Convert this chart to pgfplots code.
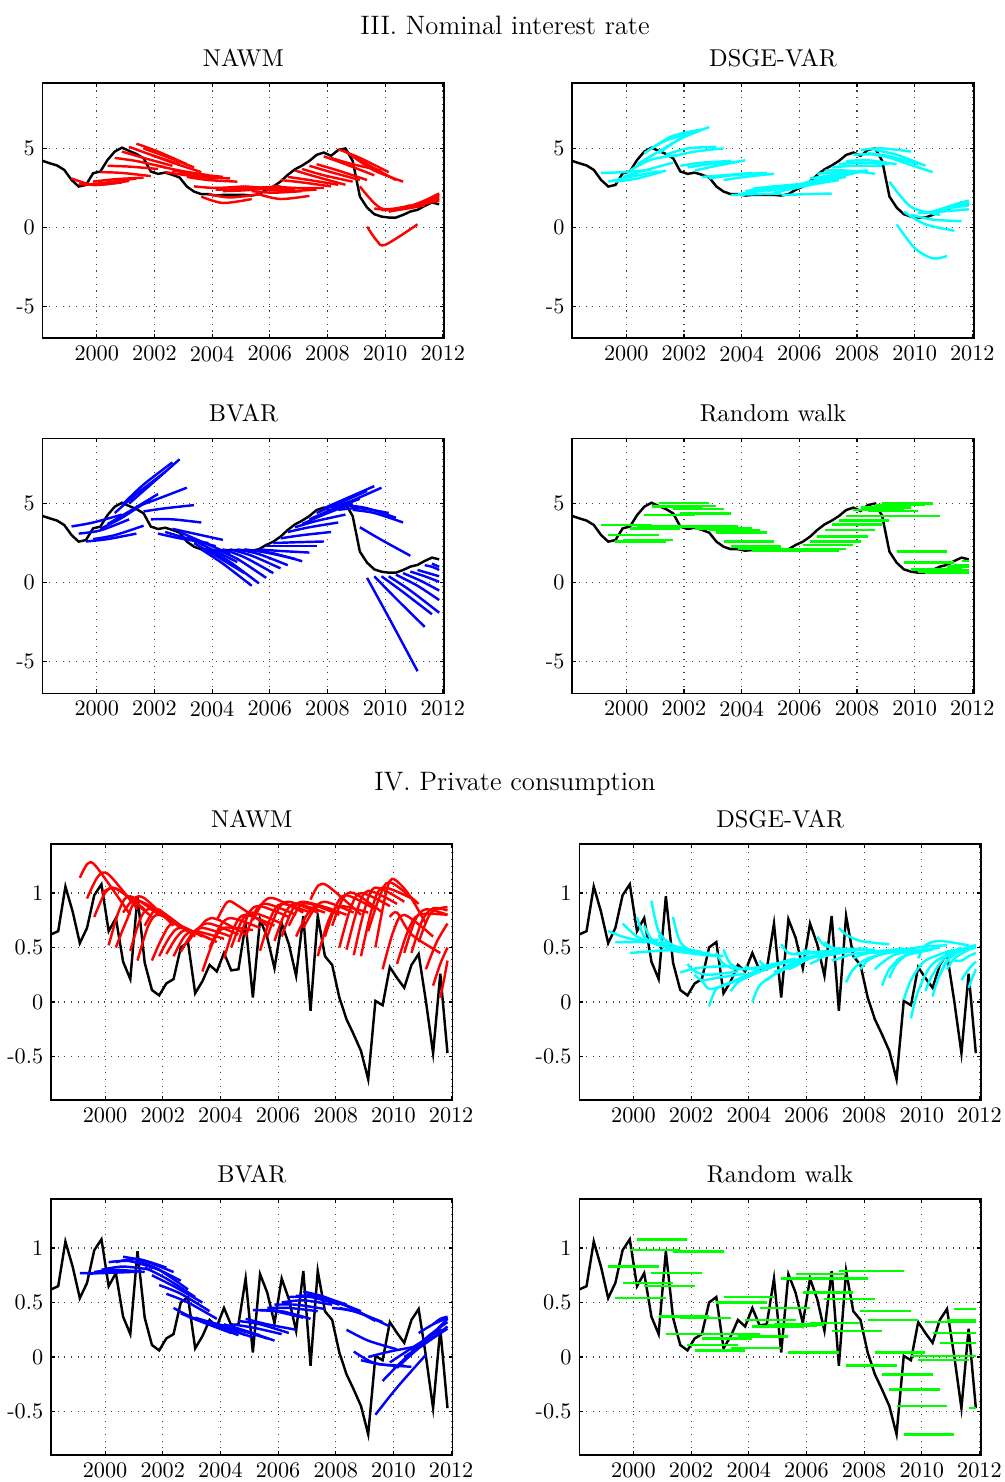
\documentclass[border=0pt]{standalone}
\usepackage{pgfplots}
\usepackage{pgfplotstable}
\pgfplotsset{compat=1.18}
\definecolor{mred}{RGB}{255,0,0}
\definecolor{mcyan}{RGB}{0,255,255}
\definecolor{mblue}{RGB}{0,0,255}
\definecolor{mgreen}{RGB}{0,255,0}

\pgfplotstableread{
x y
1998.125 4.21
1998.375 4.06
1998.625 3.92
1998.875 3.64
1999.125 3.01
1999.375 2.59
1999.625 2.69
1999.875 3.43
2000.125 3.54
2000.375 4.27
2000.625 4.80
2000.875 5.05
2001.125 4.84
2001.375 4.65
2001.625 4.38
2001.875 3.54
2002.125 3.39
2002.375 3.47
2002.625 3.33
2002.875 3.16
2003.125 2.59
2003.375 2.27
2003.625 2.11
2003.875 2.11
2004.125 2.02
2004.375 2.06
2004.625 2.06
2004.875 2.06
2005.125 2.06
2005.375 2.02
2005.625 2.11
2005.875 2.38
2006.125 2.59
2006.375 2.91
2006.625 3.33
2006.875 3.68
2007.125 3.92
2007.375 4.21
2007.625 4.59
2007.875 4.74
2008.125 4.53
2008.375 4.90
2008.625 5.00
2008.875 4.21
2009.125 1.96
2009.375 1.26
2009.625 0.84
2009.875 0.69
2010.125 0.63
2010.375 0.63
2010.625 0.80
2010.875 1.01
2011.125 1.12
2011.375 1.37
2011.625 1.58
2011.875 1.47
}\irtab

\pgfplotstableread{
x y
1998.125 0.62
1998.375 0.65
1998.625 1.06
1998.875 0.83
1999.125 0.54
1999.375 0.68
1999.625 0.98
1999.875 1.08
2000.125 0.65
2000.375 0.77
2000.625 0.37
2000.875 0.21
2001.125 0.97
2001.375 0.36
2001.625 0.11
2001.875 0.06
2002.125 0.17
2002.375 0.21
2002.625 0.50
2002.875 0.55
2003.125 0.08
2003.375 0.19
2003.625 0.34
2003.875 0.28
2004.125 0.45
2004.375 0.29
2004.625 0.30
2004.875 0.72
2005.125 0.04
2005.375 0.76
2005.625 0.59
2005.875 0.31
2006.125 0.72
2006.375 0.53
2006.625 0.24
2006.875 0.79
2007.125 -0.08
2007.375 0.79
2007.625 0.42
2007.875 0.34
2008.125 0.04
2008.375 -0.16
2008.625 -0.30
2008.875 -0.45
2009.125 -0.71
2009.375 0.01
2009.625 -0.03
2009.875 0.32
2010.125 0.22
2010.375 0.13
2010.625 0.34
2010.875 0.44
2011.125 0.01
2011.375 -0.47
2011.625 0.26
2011.875 -0.47
}\cotab

\newcommand\fc[1]{\addplot[fcol,line width=1.1pt,smooth] coordinates {#1};}
\newcommand\rw[3]{\addplot[fcol,line width=1.1pt] coordinates {(#1,#3)(#2,#3)};}

\pgfplotsset{
 panel/.style={
  scale only axis, width=180.7pt, height=114.75pt,
  anchor=south west,
  xmin=1998.125, xmax=2012.05,
  xtick={2000,2002,...,2012}, xticklabels={2000,2002,2004,2006,2008,2010,2012},
  grid=major,
  grid style={black!75, dash pattern=on 0.5pt off 2.5pt, line width=0.5pt},
  axis line style={line width=0.7pt},
  tick style={black,line width=0.5pt}, major tick length=1.8pt,
  tick align=inside,
  title style={at={(0.5,1)},anchor=base,yshift=1.4pt,font=\fontsize{10.95}{13}\selectfont},
  ticklabel style={font=\fontsize{10}{12}\selectfont},
 },
 irate/.style={panel, ymin=-7, ymax=9.12, ytick={-5,0,5}, yticklabels={-5,0,5}},
 cons/.style={panel, height=115.2pt, ymin=-0.9, ymax=1.45, ytick={-0.5,0,0.5,1}, yticklabels={-0.5,0,0.5,1}},
}

\begin{document}
\begin{tikzpicture}
\useasboundingbox (0,0) rectangle (452.25pt,-666.9pt);

\node[anchor=base,font=\fontsize{12}{14}\selectfont] at (227.25pt,-15.3pt) {III. Nominal interest rate};
\node[anchor=base,font=\fontsize{12}{14}\selectfont] at (231.75pt,-355.5pt) {IV. Private consumption};

% ---------------- P1 NAWM interest
\begin{axis}[irate, at={(19.2pt,-152.2pt)}, title={NAWM}, fcol/.style={mred}]
\addplot[black,line width=1.1pt] table[x=x,y=y] {\irtab};
\fc{(1999.125,3.1)(1999.875,2.7)(2000.875,2.85)}
\fc{(1999.375,2.75)(2000.125,2.7)(2001.125,2.95)}
\fc{(1999.625,2.7)(2000.375,2.85)(2001.375,3.1)}
\fc{(1999.875,2.9)(2000.625,3.05)(2001.625,3.15)}
\fc{(2000.125,3.5)(2000.875,3.45)(2001.875,3.25)}
\fc{(2000.375,3.9)(2001.125,3.85)(2002.125,3.7)}
\fc{(2000.625,4.4)(2001.375,4.2)(2002.375,3.8)}
\fc{(2000.875,4.8)(2001.625,4.4)(2002.625,3.9)}
\fc{(2001.125,5.1)(2001.875,4.6)(2002.875,4.0)}
\fc{(2001.375,5.3)(2002.125,4.8)(2003.125,4.0)}
\fc{(2001.625,5.0)(2002.375,4.5)(2003.375,3.8)}
\fc{(2001.875,4.6)(2002.625,4.1)(2003.625,3.5)}
\fc{(2002.125,3.9)(2002.875,3.6)(2003.875,3.3)}
\fc{(2002.375,3.5)(2003.125,3.3)(2004.125,3.1)}
\fc{(2002.625,3.6)(2003.375,3.4)(2004.375,3.2)}
\fc{(2002.875,3.4)(2003.625,3.2)(2004.625,3.1)}
\fc{(2003.125,3.2)(2003.875,3.0)(2004.875,2.9)}
\fc{(2003.375,2.6)(2004.125,2.5)(2005.125,2.6)}
\fc{(2003.625,1.95)(2004.375,1.55)(2005.375,1.8)}
\fc{(2003.875,2.1)(2004.625,1.9)(2005.625,2.1)}
\fc{(2004.125,2.4)(2004.875,2.4)(2005.875,2.5)}
\fc{(2004.375,2.3)(2005.125,2.35)(2006.125,2.5)}
\fc{(2004.625,2.5)(2005.375,2.5)(2006.375,2.6)}
\fc{(2004.875,2.5)(2005.625,2.45)(2006.625,2.5)}
\fc{(2005.125,2.6)(2005.875,2.5)(2006.875,2.4)}
\fc{(2005.375,2.3)(2006.125,2.2)(2007.125,2.3)}
\fc{(2005.625,2.1)(2006.375,1.8)(2007.375,2.0)}
\fc{(2005.875,2.4)(2006.625,2.3)(2007.625,2.4)}
\fc{(2006.125,2.6)(2006.875,2.5)(2007.875,2.5)}
\fc{(2006.375,3.0)(2007.125,2.85)(2008.125,2.6)}
\fc{(2006.625,3.2)(2007.375,3.0)(2008.375,2.7)}
\fc{(2006.875,3.6)(2007.625,3.2)(2008.625,2.7)}
\fc{(2007.125,3.7)(2007.875,3.3)(2008.875,2.9)}
\fc{(2007.375,3.9)(2008.125,3.5)(2009.125,3.0)}
\fc{(2007.625,4.0)(2008.375,3.6)(2009.375,3.0)}
\fc{(2007.875,4.5)(2008.625,4.0)(2009.625,3.3)}
\fc{(2008.125,4.4)(2008.875,4.0)(2009.875,3.6)}
\fc{(2008.375,4.95)(2009.125,4.4)(2010.125,3.5)}
\fc{(2008.625,4.8)(2009.375,4.0)(2010.375,3.0)}
\fc{(2008.875,4.5)(2009.625,3.6)(2010.625,2.9)}
\fc{(2009.125,2.6)(2009.875,1.2)(2010.875,1.4)}
\fc{(2009.375,0.05)(2009.7,-0.8)(2010.0,-1.1)(2011.125,0.2)}
\fc{(2009.625,1.2)(2010.375,1.1)(2011.375,1.4)}
\fc{(2009.875,1.1)(2010.625,1.2)(2011.625,1.6)}
\fc{(2010.125,1.0)(2010.875,1.3)(2011.875,1.8)}
\fc{(2010.375,1.1)(2011.125,1.5)(2011.875,2.0)}
\fc{(2010.625,1.2)(2011.25,1.6)(2011.875,2.1)}
\fc{(2010.875,1.3)(2011.375,1.7)(2011.875,2.15)}
\fc{(2011.125,1.4)(2011.5,1.7)(2011.875,1.9)}
\fc{(2011.375,1.5)(2011.625,1.7)(2011.875,1.8)}
\fc{(2011.625,1.6)(2011.75,1.65)(2011.875,1.7)}
\end{axis}

% ---------------- P2 DSGE-VAR interest
\begin{axis}[irate, at={(257.5pt,-152.2pt)}, title={DSGE-VAR}, fcol/.style={mcyan}]
\addplot[black,line width=1.1pt] table[x=x,y=y] {\irtab};
\fc{(1999.125,3.45)(1999.875,3.5)(2000.875,3.65)}
\fc{(1999.375,2.9)(2000.125,3.2)(2001.125,3.55)}
\fc{(1999.625,2.9)(2000.375,3.1)(2001.375,3.6)}
\fc{(1999.875,3.2)(2000.625,3.6)(2001.625,4.1)}
\fc{(2000.125,3.6)(2000.875,4.3)(2001.875,4.6)}
\fc{(2000.375,4.0)(2001.125,4.8)(2002.125,5.9)}
\fc{(2000.625,4.7)(2001.375,5.5)(2002.375,6.0)}
\fc{(2000.875,5.0)(2001.625,5.8)(2002.625,6.2)}
\fc{(2001.125,4.7)(2001.875,5.6)(2002.875,6.35)}
\fc{(2001.375,4.6)(2002.125,5.0)(2003.125,5.1)}
\fc{(2001.625,4.5)(2002.375,4.8)(2003.375,5.0)}
\fc{(2001.875,3.9)(2002.625,4.1)(2003.625,4.2)}
\fc{(2002.125,3.8)(2002.875,4.0)(2003.875,4.15)}
\fc{(2002.375,3.6)(2003.125,3.9)(2004.125,4.25)}
\fc{(2002.625,3.2)(2003.375,3.3)(2004.375,3.45)}
\fc{(2002.875,3.1)(2003.625,3.3)(2004.625,3.4)}
\fc{(2003.125,3.2)(2003.875,3.35)(2004.875,3.45)}
\fc{(2003.375,3.0)(2004.125,3.2)(2005.125,3.4)}
\fc{(2003.625,2.05)(2004.375,2.1)(2005.375,2.15)}
\fc{(2003.875,2.1)(2004.625,2.3)(2005.625,2.5)}
\fc{(2004.125,2.3)(2004.875,2.5)(2005.875,2.65)}
\fc{(2004.375,2.45)(2005.125,2.6)(2006.125,2.75)}
\fc{(2004.625,2.4)(2005.375,2.6)(2006.375,2.8)}
\fc{(2004.875,2.3)(2005.625,2.55)(2006.625,2.85)}
\fc{(2005.125,2.2)(2005.875,2.5)(2006.875,2.9)}
\fc{(2005.375,2.05)(2006.125,2.1)(2007.125,2.15)}
\fc{(2005.625,2.4)(2006.375,2.7)(2007.375,3.0)}
\fc{(2005.875,2.6)(2006.625,2.9)(2007.625,3.2)}
\fc{(2006.125,2.8)(2006.875,3.1)(2007.875,3.4)}
\fc{(2006.375,3.1)(2007.125,3.3)(2008.125,3.5)}
\fc{(2006.625,3.4)(2007.375,3.5)(2008.375,3.6)}
\fc{(2006.875,3.6)(2007.625,3.6)(2008.625,3.4)}
\fc{(2007.125,3.8)(2007.875,3.9)(2008.875,3.9)}
\fc{(2007.375,4.0)(2008.125,4.1)(2009.125,4.0)}
\fc{(2007.625,4.2)(2008.375,4.25)(2009.375,4.0)}
\fc{(2007.875,4.6)(2008.625,4.6)(2009.625,4.2)}
\fc{(2008.125,4.9)(2008.875,5.0)(2009.875,4.8)}
\fc{(2008.375,4.7)(2009.125,4.5)(2010.125,4.0)}
\fc{(2008.625,4.9)(2009.375,4.6)(2010.375,3.9)}
\fc{(2008.875,4.6)(2009.625,4.1)(2010.625,3.5)}
\fc{(2009.125,2.9)(2009.875,1.3)(2010.875,0.8)}
\fc{(2009.375,0.2)(2010.0,-1.3)(2010.625,-1.95)(2011.125,-1.8)}
\fc{(2009.625,1.0)(2010.375,0.2)(2011.375,-0.2)}
\fc{(2009.875,0.8)(2010.625,0.5)(2011.625,0.4)}
\fc{(2010.125,0.9)(2010.875,1.0)(2011.875,1.15)}
\fc{(2010.375,0.9)(2011.125,1.2)(2011.875,1.4)}
\fc{(2010.625,1.0)(2011.25,1.35)(2011.875,1.55)}
\fc{(2010.875,1.1)(2011.375,1.45)(2011.875,1.7)}
\fc{(2011.125,1.2)(2011.5,1.4)(2011.875,1.6)}
\fc{(2011.375,1.3)(2011.625,1.45)(2011.875,1.55)}
\fc{(2011.625,1.5)(2011.75,1.55)(2011.875,1.6)}
\end{axis}

% ---------------- P3 BVAR interest
\begin{axis}[irate, at={(19.2pt,-312.0pt)}, title={BVAR}, fcol/.style={mblue}]
\addplot[black,line width=1.1pt] table[x=x,y=y] {\irtab};
\fc{(1999.125,3.55)(1999.875,3.8)(2000.875,4.3)}
\fc{(1999.375,3.1)(2000.125,3.3)(2001.125,4.0)}
\fc{(1999.625,2.6)(2000.375,2.75)(2001.375,3.1)}
\fc{(1999.875,2.75)(2000.625,3.0)(2001.625,3.6)}
\fc{(2000.125,3.4)(2000.875,4.1)(2001.875,5.3)}
\fc{(2000.375,3.7)(2001.125,4.5)(2002.125,5.6)}
\fc{(2000.625,4.4)(2001.375,5.6)(2002.375,7.0)}
\fc{(2000.875,4.9)(2001.625,6.2)(2002.625,7.6)}
\fc{(2001.125,5.0)(2001.875,6.2)(2002.875,7.8)}
\fc{(2001.375,4.8)(2002.125,5.3)(2003.125,6.0)}
\fc{(2001.625,4.5)(2002.375,4.7)(2003.375,4.9)}
\fc{(2001.875,4.0)(2002.625,4.0)(2003.625,3.8)}
\fc{(2002.125,3.1)(2002.875,2.8)(2003.875,2.5)}
\fc{(2002.375,3.2)(2003.125,2.8)(2004.125,2.3)}
\fc{(2002.625,3.4)(2003.375,3.1)(2004.375,2.7)}
\fc{(2002.875,3.2)(2003.625,2.6)(2004.625,1.8)}
\fc{(2003.125,2.9)(2003.875,2.2)(2004.875,1.3)}
\fc{(2003.375,2.5)(2004.125,1.7)(2005.125,0.6)}
\fc{(2003.625,2.1)(2004.375,1.2)(2005.375,-0.2)}
\fc{(2003.875,2.1)(2004.625,1.3)(2005.625,-0.05)}
\fc{(2004.125,2.1)(2004.875,1.5)(2005.875,0.3)}
\fc{(2004.375,2.1)(2005.125,1.6)(2006.125,0.6)}
\fc{(2004.625,2.1)(2005.375,1.7)(2006.375,0.9)}
\fc{(2004.875,2.1)(2005.625,1.8)(2006.625,1.1)}
\fc{(2005.125,2.1)(2005.875,1.9)(2006.875,1.5)}
\fc{(2005.375,2.05)(2006.125,1.85)(2007.125,1.35)}
\fc{(2005.625,2.1)(2006.375,2.0)(2007.375,1.9)}
\fc{(2005.875,2.3)(2006.625,2.3)(2007.625,2.3)}
\fc{(2006.125,2.5)(2006.875,2.55)(2007.875,2.6)}
\fc{(2006.375,2.8)(2007.125,3.0)(2008.125,3.2)}
\fc{(2006.625,3.2)(2007.375,3.5)(2008.375,3.8)}
\fc{(2006.875,3.5)(2007.625,3.9)(2008.625,4.3)}
\fc{(2007.125,3.7)(2007.875,4.3)(2008.875,5.0)}
\fc{(2007.375,4.0)(2008.125,4.6)(2009.125,5.3)}
\fc{(2007.625,4.4)(2008.375,5.0)(2009.375,5.8)}
\fc{(2007.875,4.7)(2008.625,5.3)(2009.625,6.1)}
\fc{(2008.125,4.7)(2008.875,5.2)(2009.875,6.0)}
\fc{(2008.375,4.6)(2009.125,4.7)(2010.125,4.4)}
\fc{(2008.625,4.9)(2009.375,4.7)(2010.375,4.1)}
\fc{(2008.875,4.6)(2009.625,4.4)(2010.625,3.8)}
\fc{(2009.125,3.5)(2009.875,2.7)(2010.875,1.7)}
\fc{(2009.375,0.3)(2010.125,-2.2)(2011.125,-5.6)}
\fc{(2009.625,0.4)(2010.375,-1.0)(2011.375,-2.8)}
\fc{(2009.875,0.4)(2010.625,-0.6)(2011.625,-2.0)}
\fc{(2010.125,0.4)(2010.875,-0.5)(2011.875,-1.9)}
\fc{(2010.375,0.5)(2011.125,-0.2)(2011.875,-1.1)}
\fc{(2010.625,0.6)(2011.25,0.1)(2011.875,-0.5)}
\fc{(2010.875,0.7)(2011.375,0.4)(2011.875,0.05)}
\fc{(2011.125,0.8)(2011.5,0.6)(2011.875,0.4)}
\fc{(2011.375,1.1)(2011.625,1.0)(2011.875,0.8)}
\fc{(2011.625,1.2)(2011.75,1.1)(2011.875,1.0)}
\end{axis}

% ---------------- P4 Random walk interest
\begin{axis}[irate, at={(257.5pt,-312.0pt)}, title={Random walk}, fcol/.style={mgreen}]
\addplot[black,line width=1.1pt] table[x=x,y=y] {\irtab};
\rw{1999.125}{2000.875}{3.64}
\rw{1999.375}{2001.125}{3.01}
\rw{1999.625}{2001.375}{2.59}
\rw{1999.875}{2001.625}{2.69}
\rw{2000.125}{2001.875}{3.43}
\rw{2000.375}{2002.125}{3.54}
\rw{2000.625}{2002.375}{4.27}
\rw{2000.875}{2002.625}{4.80}
\rw{2001.125}{2002.875}{5.05}
\rw{2001.375}{2003.125}{4.84}
\rw{2001.625}{2003.375}{4.65}
\rw{2001.875}{2003.625}{4.38}
\rw{2002.125}{2003.875}{3.54}
\rw{2002.375}{2004.125}{3.39}
\rw{2002.625}{2004.375}{3.47}
\rw{2002.875}{2004.625}{3.33}
\rw{2003.125}{2004.875}{3.16}
\rw{2003.375}{2005.125}{2.59}
\rw{2003.625}{2005.375}{2.27}
\rw{2003.875}{2005.625}{2.11}
\rw{2004.125}{2005.875}{2.11}
\rw{2004.375}{2006.125}{2.02}
\rw{2004.625}{2006.375}{2.06}
\rw{2004.875}{2006.625}{2.06}
\rw{2005.125}{2006.875}{2.06}
\rw{2005.375}{2007.125}{2.06}
\rw{2005.625}{2007.375}{2.02}
\rw{2005.875}{2007.625}{2.11}
\rw{2006.125}{2007.875}{2.38}
\rw{2006.375}{2008.125}{2.59}
\rw{2006.625}{2008.375}{2.91}
\rw{2006.875}{2008.625}{3.33}
\rw{2007.125}{2008.875}{3.68}
\rw{2007.375}{2009.125}{3.92}
\rw{2007.625}{2009.375}{4.21}
\rw{2007.875}{2009.625}{4.59}
\rw{2008.125}{2009.875}{4.74}
\rw{2008.375}{2010.125}{4.53}
\rw{2008.625}{2010.375}{4.90}
\rw{2008.875}{2010.625}{5.00}
\rw{2009.125}{2010.875}{4.21}
\rw{2009.375}{2011.125}{1.96}
\rw{2009.625}{2011.375}{1.26}
\rw{2009.875}{2011.625}{0.84}
\rw{2010.125}{2011.875}{0.69}
\rw{2010.375}{2011.875}{0.63}
\rw{2010.625}{2011.875}{0.63}
\rw{2010.875}{2011.875}{0.80}
\rw{2011.125}{2011.875}{1.01}
\rw{2011.375}{2011.875}{1.12}
\rw{2011.625}{2011.875}{1.37}
\end{axis}

% ---------------- P5 NAWM consumption
\begin{axis}[cons, at={(22.95pt,-495.0pt)}, title={NAWM}, fcol/.style={mred}]
\addplot[black,line width=1.1pt] table[x=x,y=y] {\cotab};
\fc{(1999.125,1.14)(1999.4,1.27)(1999.7,1.24)(2000.875,0.8)}
\fc{(1999.375,0.95)(1999.75,1.15)(2000.125,1.17)(2001.125,0.85)}
\fc{(1999.625,0.78)(2000.0,1.0)(2000.375,1.04)(2001.375,0.85)}
\fc{(1999.875,1.0)(2000.25,1.05)(2000.625,1.0)(2001.625,0.78)}
\fc{(2000.125,0.52)(2000.5,0.85)(2000.875,0.97)(2001.875,0.8)}
\fc{(2000.375,0.5)(2000.75,0.75)(2001.125,0.93)(2002.125,0.78)}
\fc{(2000.625,0.82)(2001.0,0.95)(2001.375,0.95)(2002.375,0.7)}
\fc{(2000.875,0.47)(2001.25,0.78)(2001.625,0.85)(2002.625,0.68)}
\fc{(2001.125,0.38)(2001.5,0.7)(2001.875,0.8)(2002.875,0.65)}
\fc{(2001.375,0.7)(2001.75,0.85)(2002.125,0.8)(2003.125,0.6)}
\fc{(2001.625,0.38)(2002.0,0.6)(2002.375,0.72)(2003.375,0.6)}
\fc{(2001.875,0.42)(2002.25,0.6)(2002.625,0.68)(2003.625,0.58)}
\fc{(2002.125,0.44)(2002.5,0.6)(2002.875,0.66)(2003.875,0.55)}
\fc{(2002.375,0.42)(2002.75,0.6)(2003.125,0.65)(2004.125,0.58)}
\fc{(2002.625,0.46)(2003.0,0.62)(2003.375,0.68)(2004.375,0.6)}
\fc{(2002.875,0.55)(2003.25,0.68)(2003.625,0.72)(2004.625,0.62)}
\fc{(2003.125,0.62)(2003.5,0.75)(2003.875,0.76)(2004.875,0.62)}
\fc{(2003.375,0.28)(2003.75,0.55)(2004.125,0.68)(2005.125,0.66)}
\fc{(2003.625,0.5)(2004.0,0.7)(2004.375,0.77)(2005.375,0.68)}
\fc{(2003.875,0.75)(2004.25,0.92)(2004.625,0.88)(2005.625,0.7)}
\fc{(2004.125,0.4)(2004.5,0.7)(2004.875,0.8)(2005.875,0.7)}
\fc{(2004.375,0.5)(2004.75,0.75)(2005.125,0.82)(2006.125,0.72)}
\fc{(2004.625,0.55)(2005.0,0.82)(2005.375,0.88)(2006.375,0.78)}
\fc{(2004.875,0.6)(2005.25,0.85)(2005.625,0.9)(2006.625,0.8)}
\fc{(2005.125,0.75)(2005.5,0.92)(2005.875,0.95)(2006.875,0.82)}
\fc{(2005.375,0.47)(2005.75,0.78)(2006.125,0.9)(2007.125,0.82)}
\fc{(2005.625,0.6)(2006.0,0.85)(2006.375,0.92)(2007.375,0.82)}
\fc{(2005.875,0.56)(2006.25,0.82)(2006.625,0.9)(2007.625,0.82)}
\fc{(2006.125,0.6)(2006.5,0.85)(2006.875,0.92)(2007.875,0.85)}
\fc{(2006.375,0.7)(2006.75,0.88)(2007.125,0.9)(2008.125,0.8)}
\fc{(2006.625,0.6)(2007.0,0.8)(2007.375,0.88)(2008.375,0.8)}
\fc{(2006.875,0.68)(2007.25,0.85)(2007.625,0.92)(2008.625,0.82)}
\fc{(2007.125,0.94)(2007.4,1.07)(2007.75,1.06)(2008.875,0.8)}
\fc{(2007.375,0.42)(2007.75,0.75)(2008.125,0.88)(2009.125,0.82)}
\fc{(2007.625,0.6)(2008.0,0.88)(2008.375,0.98)(2009.375,0.85)}
\fc{(2007.875,0.7)(2008.25,0.95)(2008.625,1.0)(2009.625,0.82)}
\fc{(2008.125,0.5)(2008.5,0.85)(2008.875,1.0)(2009.875,0.88)}
\fc{(2008.375,0.48)(2008.75,0.85)(2009.125,1.02)(2010.125,0.9)}
\fc{(2008.625,0.43)(2009.0,0.85)(2009.375,1.05)(2010.375,0.92)}
\fc{(2008.875,0.42)(2009.25,0.85)(2009.625,1.05)(2010.625,0.95)}
\fc{(2009.125,0.65)(2009.5,0.95)(2009.875,1.1)(2010.875,0.9)}
\fc{(2009.375,0.5)(2009.7,0.95)(2009.95,1.13)(2010.5,1.0)(2011.125,0.72)}
\fc{(2009.625,0.3)(2010.0,0.65)(2010.375,0.8)(2011.375,0.6)}
\fc{(2009.875,0.78)(2010.125,0.82)(2010.625,0.62)(2011.625,0.45)}
\fc{(2010.125,0.35)(2010.5,0.65)(2010.875,0.8)(2011.875,0.8)}
\fc{(2010.375,0.45)(2010.75,0.75)(2011.125,0.85)(2011.875,0.8)}
\fc{(2010.625,0.45)(2011.0,0.75)(2011.375,0.86)(2011.875,0.84)}
\fc{(2010.875,0.55)(2011.25,0.8)(2011.625,0.86)(2011.875,0.87)}
\fc{(2011.125,0.3)(2011.5,0.55)(2011.875,0.72)}
\fc{(2011.375,0.15)(2011.625,0.35)(2011.875,0.5)}
\fc{(2011.625,0.04)(2011.75,0.2)(2011.875,0.38)}
\end{axis}

% ---------------- P6 DSGE-VAR consumption
\begin{axis}[cons, at={(260.7pt,-495.0pt)}, title={DSGE-VAR}, fcol/.style={mcyan}]
\addplot[black,line width=1.1pt] table[x=x,y=y] {\cotab};
\fc{(1999.125,0.65)(1999.625,0.6)(2000.125,0.57)(2000.875,0.57)}
\fc{(1999.375,0.55)(1999.875,0.55)(2000.375,0.55)(2001.125,0.54)}
\fc{(1999.625,0.72)(2000.125,0.6)(2000.625,0.55)(2001.375,0.5)}
\fc{(1999.875,0.45)(2000.375,0.46)(2000.875,0.47)(2001.625,0.48)}
\fc{(2000.125,0.78)(2000.375,0.6)(2000.875,0.52)(2001.875,0.48)}
\fc{(2000.375,0.7)(2000.625,0.58)(2001.125,0.5)(2002.125,0.47)}
\fc{(2000.625,0.93)(2000.875,0.65)(2001.375,0.52)(2002.375,0.46)}
\fc{(2000.875,0.62)(2001.125,0.5)(2001.625,0.46)(2002.625,0.45)}
\fc{(2001.125,0.55)(2001.375,0.48)(2001.875,0.45)(2002.875,0.42)}
\fc{(2001.375,0.78)(2001.625,0.55)(2002.125,0.46)(2003.125,0.42)}
\fc{(2001.625,0.27)(2002.0,0.3)(2002.5,0.32)(2003.375,0.33)}
\fc{(2001.875,0.35)(2002.125,0.28)(2002.625,0.25)(2003.625,0.28)}
\fc{(2002.125,0.25)(2002.375,0.2)(2002.875,0.22)(2003.875,0.26)}
\fc{(2002.375,0.2)(2002.625,0.12)(2003.125,0.15)(2004.125,0.25)}
\fc{(2002.625,-0.04)(2002.875,0.12)(2003.375,0.18)(2004.375,0.3)}
\fc{(2002.875,0.45)(2003.125,0.35)(2003.625,0.3)(2004.625,0.33)}
\fc{(2003.125,0.48)(2003.375,0.35)(2003.875,0.3)(2004.875,0.35)}
\fc{(2003.375,0.1)(2003.625,0.18)(2004.125,0.25)(2005.125,0.35)}
\fc{(2003.625,0.2)(2003.875,0.22)(2004.375,0.28)(2005.375,0.38)}
\fc{(2003.875,0.33)(2004.125,0.3)(2004.625,0.33)(2005.625,0.4)}
\fc{(2004.125,0.0)(2004.375,0.15)(2004.875,0.25)(2005.875,0.38)}
\fc{(2004.375,0.38)(2004.625,0.32)(2005.125,0.35)(2006.125,0.42)}
\fc{(2004.625,0.2)(2004.875,0.25)(2005.375,0.33)(2006.375,0.43)}
\fc{(2004.875,0.28)(2005.125,0.3)(2005.625,0.37)(2006.625,0.45)}
\fc{(2005.125,0.53)(2005.375,0.45)(2005.875,0.44)(2006.875,0.47)}
\fc{(2005.375,0.3)(2005.625,0.33)(2006.125,0.4)(2007.125,0.46)}
\fc{(2005.625,0.45)(2005.875,0.45)(2006.375,0.46)(2007.375,0.48)}
\fc{(2005.875,0.48)(2006.125,0.46)(2006.625,0.46)(2007.625,0.48)}
\fc{(2006.125,0.35)(2006.375,0.38)(2006.625,0.42)(2007.875,0.48)}
\fc{(2006.375,0.6)(2006.625,0.52)(2007.125,0.49)(2008.125,0.49)}
\fc{(2006.625,0.55)(2006.875,0.5)(2007.375,0.48)(2008.375,0.48)}
\fc{(2006.875,0.38)(2007.125,0.4)(2007.625,0.44)(2008.625,0.47)}
\fc{(2007.125,0.68)(2007.375,0.62)(2007.875,0.56)(2008.875,0.53)}
\fc{(2007.375,0.18)(2007.625,0.3)(2008.125,0.4)(2009.125,0.47)}
\fc{(2007.625,0.4)(2007.875,0.43)(2008.375,0.46)(2009.375,0.49)}
\fc{(2007.875,0.3)(2008.125,0.38)(2008.625,0.44)(2009.625,0.48)}
\fc{(2008.125,0.45)(2008.375,0.45)(2008.625,0.46)(2009.875,0.5)}
\fc{(2008.375,0.3)(2008.625,0.36)(2009.125,0.44)(2010.125,0.48)}
\fc{(2008.625,0.15)(2008.875,0.3)(2009.375,0.42)(2010.375,0.48)}
\fc{(2008.875,0.22)(2009.125,0.35)(2009.625,0.45)(2010.625,0.5)}
\fc{(2009.125,0.38)(2009.375,0.42)(2009.875,0.5)(2010.875,0.52)}
\fc{(2009.375,0.02)(2009.625,0.2)(2010.125,0.38)(2011.125,0.48)}
\fc{(2009.625,-0.15)(2009.875,0.1)(2010.375,0.35)(2011.375,0.5)}
\fc{(2009.875,0.4)(2010.125,0.52)(2010.625,0.56)(2011.625,0.52)}
\fc{(2010.125,0.1)(2010.375,0.25)(2010.875,0.42)(2011.875,0.5)}
\fc{(2010.375,0.05)(2010.625,0.25)(2011.125,0.45)(2011.875,0.52)}
\fc{(2010.625,0.25)(2010.875,0.38)(2011.375,0.48)(2011.875,0.52)}
\fc{(2010.875,0.3)(2011.125,0.4)(2011.625,0.48)(2011.875,0.5)}
\fc{(2011.125,0.38)(2011.375,0.38)(2011.625,0.42)(2011.875,0.45)}
\fc{(2011.375,0.2)(2011.625,0.3)(2011.875,0.37)}
\fc{(2011.625,0.13)(2011.75,0.22)(2011.875,0.3)}
\end{axis}

% ---------------- P7 BVAR consumption
\begin{axis}[cons, at={(22.95pt,-654.75pt)}, title={BVAR}, fcol/.style={mblue}]
\addplot[black,line width=1.1pt] table[x=x,y=y] {\cotab};
\fc{(1999.125,0.77)(1999.875,0.77)(2000.875,0.78)}
\fc{(1999.375,0.76)(2000.125,0.78)(2001.125,0.78)}
\fc{(1999.625,0.78)(2000.375,0.8)(2001.375,0.78)}
\fc{(1999.875,0.8)(2000.625,0.83)(2001.625,0.8)}
\fc{(2000.125,0.87)(2000.875,0.88)(2001.875,0.8)}
\fc{(2000.375,0.87)(2001.125,0.9)(2002.125,0.82)}
\fc{(2000.625,0.92)(2001.375,0.88)(2002.375,0.78)}
\fc{(2000.875,0.88)(2001.625,0.83)(2002.625,0.7)}
\fc{(2001.125,0.88)(2001.875,0.8)(2002.875,0.62)}
\fc{(2001.375,0.82)(2002.125,0.72)(2003.125,0.55)}
\fc{(2001.625,0.75)(2002.375,0.65)(2003.375,0.5)}
\fc{(2001.875,0.66)(2002.625,0.58)(2003.625,0.42)}
\fc{(2002.125,0.58)(2002.875,0.5)(2003.875,0.35)}
\fc{(2002.375,0.45)(2003.125,0.35)(2004.125,0.27)}
\fc{(2002.625,0.4)(2003.375,0.32)(2004.375,0.22)}
\fc{(2002.875,0.37)(2003.625,0.3)(2004.625,0.2)}
\fc{(2003.125,0.36)(2003.875,0.3)(2004.875,0.2)}
\fc{(2003.375,0.33)(2004.125,0.27)(2005.125,0.18)}
\fc{(2003.625,0.32)(2004.375,0.27)(2005.375,0.2)}
\fc{(2003.875,0.3)(2004.625,0.25)(2005.625,0.17)}
\fc{(2004.125,0.3)(2004.875,0.24)(2005.875,0.15)}
\fc{(2004.375,0.3)(2005.125,0.27)(2006.125,0.21)}
\fc{(2004.625,0.33)(2005.375,0.3)(2006.375,0.22)}
\fc{(2004.875,0.35)(2005.625,0.3)(2006.625,0.25)}
\fc{(2005.125,0.43)(2005.875,0.42)(2006.875,0.36)}
\fc{(2005.375,0.43)(2006.125,0.42)(2007.125,0.35)}
\fc{(2005.625,0.45)(2006.375,0.45)(2007.375,0.42)}
\fc{(2005.875,0.48)(2006.625,0.48)(2007.625,0.44)}
\fc{(2006.125,0.5)(2006.875,0.52)(2007.875,0.48)}
\fc{(2006.375,0.55)(2007.125,0.55)(2008.125,0.48)}
\fc{(2006.625,0.56)(2007.375,0.56)(2008.375,0.48)}
\fc{(2006.875,0.6)(2007.625,0.55)(2008.625,0.44)}
\fc{(2007.125,0.57)(2007.875,0.52)(2008.875,0.42)}
\fc{(2007.375,0.55)(2008.125,0.5)(2009.125,0.37)}
\fc{(2007.625,0.52)(2008.375,0.47)(2009.375,0.33)}
\fc{(2007.875,0.45)(2008.625,0.42)(2009.625,0.32)}
\fc{(2008.125,0.45)(2008.875,0.4)(2009.875,0.28)}
\fc{(2008.375,0.25)(2009.125,0.15)(2010.125,0.07)}
\fc{(2008.625,0.05)(2009.375,-0.06)(2010.375,-0.08)}
\fc{(2008.875,-0.03)(2009.625,-0.07)(2010.625,-0.09)}
\fc{(2009.125,0.0)(2009.875,0.05)(2010.875,0.1)}
\fc{(2009.375,-0.53)(2010.125,-0.28)(2011.125,0.02)}
\fc{(2009.625,-0.22)(2010.375,-0.02)(2011.375,0.2)}
\fc{(2009.875,-0.05)(2010.625,0.08)(2011.625,0.25)}
\fc{(2010.125,-0.1)(2010.875,0.08)(2011.875,0.26)}
\fc{(2010.375,0.0)(2011.125,0.13)(2011.875,0.28)}
\fc{(2010.625,0.05)(2011.25,0.2)(2011.875,0.32)}
\fc{(2010.875,0.22)(2011.375,0.3)(2011.875,0.36)}
\fc{(2011.125,0.15)(2011.5,0.25)(2011.875,0.35)}
\fc{(2011.375,0.3)(2011.625,0.35)(2011.875,0.37)}
\fc{(2011.625,0.33)(2011.75,0.35)(2011.875,0.36)}
\end{axis}

% ---------------- P8 Random walk consumption
\begin{axis}[cons, at={(260.7pt,-654.75pt)}, title={Random walk}, fcol/.style={mgreen}]
\addplot[black,line width=1.1pt] table[x=x,y=y] {\cotab};
\rw{1999.125}{2000.875}{0.83}
\rw{1999.375}{2001.125}{0.54}
\rw{1999.625}{2001.375}{0.68}
\rw{1999.875}{2001.625}{0.98}
\rw{2000.125}{2001.875}{1.08}
\rw{2000.375}{2002.125}{0.65}
\rw{2000.625}{2002.375}{0.77}
\rw{2000.875}{2002.625}{0.37}
\rw{2001.125}{2002.875}{0.21}
\rw{2001.375}{2003.125}{0.97}
\rw{2001.625}{2003.375}{0.36}
\rw{2001.875}{2003.625}{0.11}
\rw{2002.125}{2003.875}{0.06}
\rw{2002.375}{2004.125}{0.17}
\rw{2002.625}{2004.375}{0.21}
\rw{2002.875}{2004.625}{0.50}
\rw{2003.125}{2004.875}{0.55}
\rw{2003.375}{2005.125}{0.08}
\rw{2003.625}{2005.375}{0.19}
\rw{2003.875}{2005.625}{0.34}
\rw{2004.125}{2005.875}{0.28}
\rw{2004.375}{2006.125}{0.45}
\rw{2004.625}{2006.375}{0.29}
\rw{2004.875}{2006.625}{0.30}
\rw{2005.125}{2006.875}{0.72}
\rw{2005.375}{2007.125}{0.04}
\rw{2005.625}{2007.375}{0.76}
\rw{2005.875}{2007.625}{0.59}
\rw{2006.125}{2007.875}{0.31}
\rw{2006.375}{2008.125}{0.72}
\rw{2006.625}{2008.375}{0.53}
\rw{2006.875}{2008.625}{0.24}
\rw{2007.125}{2008.875}{0.79}
\rw{2007.375}{2009.125}{-0.08}
\rw{2007.625}{2009.375}{0.79}
\rw{2007.875}{2009.625}{0.42}
\rw{2008.125}{2009.875}{0.34}
\rw{2008.375}{2010.125}{0.04}
\rw{2008.625}{2010.375}{-0.16}
\rw{2008.875}{2010.625}{-0.30}
\rw{2009.125}{2010.875}{-0.45}
\rw{2009.375}{2011.125}{-0.71}
\rw{2009.625}{2011.375}{0.01}
\rw{2009.875}{2011.625}{-0.03}
\rw{2010.125}{2011.875}{0.32}
\rw{2010.375}{2011.875}{0.22}
\rw{2010.625}{2011.875}{0.13}
\rw{2010.875}{2011.875}{0.34}
\rw{2011.125}{2011.875}{0.44}
\rw{2011.375}{2011.875}{0.01}
\rw{2011.625}{2011.875}{-0.47}
\end{axis}
\end{tikzpicture}
\end{document}
